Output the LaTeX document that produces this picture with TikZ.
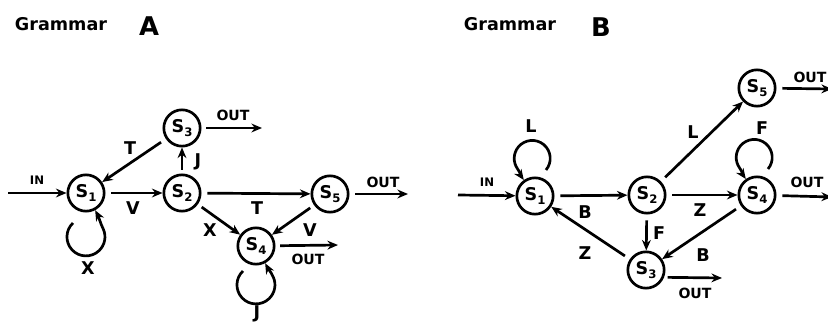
\documentclass[tikz,border=0pt]{standalone}
\usepackage{fontspec}
\setmainfont{DejaVu Sans}
\usetikzlibrary{arrows.meta,positioning,calc}

% state label: S with a lowered index
\newcommand{\stname}[1]{S\raisebox{-0.45ex}{\fontsize{10}{10}\selectfont #1}}

\begin{document}
\begin{tikzpicture}[
    x=0.03cm, y=0.03cm,
    every node/.style={font=\bfseries},
    state/.style={circle, draw, line width=2.3pt, minimum size=31pt, inner sep=0pt, font=\fontsize{15}{15}\bfseries\selectfont},
    arrow/.style={line width=2.3pt, -{Stealth[length=9pt,width=7.5pt]}},
    lbl/.style={font=\fontsize{15}{15}\bfseries\selectfont, inner sep=0pt},
    outlbl/.style={font=\fontsize{12}{12}\bfseries\selectfont, inner sep=0pt},
    inlbl/.style={font=\fontsize{10}{10}\bfseries\selectfont, inner sep=0pt},
    title/.style={font=\fontsize{15}{15}\bfseries\selectfont, inner sep=0pt},
    letter/.style={font=\fontsize{22}{22}\bfseries\selectfont, inner sep=0pt}
]
\useasboundingbox (0,0) rectangle (828,325);

% Titles
\node[title] (titleA) at (61,301) {Grammar};
\node[letter] (letterA) at (149,299) {A};
\node[title] (titleB) at (510,301) {Grammar};
\node[letter] (letterB) at (601,298) {B};

%%% Grammar A

% States
\node[state] (s1A) at (86,132) {\stname{1}};
\node[state] (s2A) at (182,132) {\stname{2}};
\node[state] (s3A) at (182,197) {\stname{3}};
\node[state] (s5A) at (330,131) {\stname{5}};
\node[state] (s4A) at (256,79) {\stname{4}};

% Free ends
\coordinate (inA) at (8,132);
\coordinate (out3A) at (262,197);
\coordinate (out5A) at (408,131);
\coordinate (out4A) at (338,80);

% Transitions
\draw[arrow] (inA) -- (s1A);
\draw[arrow, shorten <=5pt] (s1A) -- (s2A);
\draw[arrow, shorten <=5pt] (s3A) -- (s1A);
\draw[arrow, shorten <=3pt] (s2A) -- (s3A);
\draw[arrow, shorten <=5pt] (s2A) -- (s5A);
\draw[arrow, shorten <=4pt] (s2A) -- (s4A);
\draw[arrow, shorten <=4pt] (s5A) -- (s4A);
\draw[arrow, shorten <=4pt] (s3A) -- (out3A);
\draw[arrow, shorten <=5pt] (s5A) -- (out5A);
\draw[arrow, shorten <=4pt] (s4A) -- (out4A);
% loops below
\draw[arrow] ($(s1A)+(-13,-30)$) arc[start angle=133, end angle=385, radius=19] to[out=115,in=-62] (s1A.-62);
\draw[arrow] ($(s4A)+(-13,-25)$) arc[start angle=133, end angle=385, radius=19] to[out=115,in=-62] (s4A.-62);

% Labels
\node[inlbl] (inlblA) at (37,145) {IN};
\node[lbl] (vA1) at (133,117) {V};
\node[lbl] (tA1) at (130,177) {T};
\node[lbl] (jA1) at (198,163) {J};
\node[outlbl] (o3A) at (233,210) {OUT};
\node[lbl] (tA2) at (257,117) {T};
\node[lbl] (xA1) at (210,95) {X};
\node[lbl] (vA2) at (310,95) {V};
\node[outlbl] (o5A) at (383,143) {OUT};
\node[outlbl] (o4A) at (308,66) {OUT};
\node[lbl] (xA2) at (88,57) {X};
\node[lbl] (jA2) at (257,11) {J};

%%% Grammar B

% States
\node[state] (s1B) at (535,129) {\stname{1}};
\node[state] (s2B) at (647,130) {\stname{2}};
\node[state] (s4B) at (757,130) {\stname{4}};
\node[state] (s5B) at (757,237) {\stname{5}};
\node[state] (s3B) at (646,55) {\stname{3}};

% Free ends
\coordinate (inB) at (458,130);
\coordinate (out4B) at (832,128);
\coordinate (out5B) at (832,236);
\coordinate (out3B) at (722,47);

% Transitions
\draw[arrow] (inB) -- (s1B);
\draw[arrow, shorten <=5pt] (s1B) -- (s2B);
\draw[arrow, shorten <=5pt] (s2B) -- (s4B);
\draw[arrow, shorten <=5pt] (s2B) -- (s5B);
\draw[arrow, shorten <=5pt] (s2B) -- (s3B);
\draw[arrow, shorten <=5pt] (s4B) -- (s3B);
\draw[arrow, shorten <=5pt] (s3B) -- (s1B);
\draw[arrow, shorten <=5pt] (s4B) -- (out4B);
\draw[arrow, shorten <=5pt] (s5B) -- (out5B);
\draw[arrow, shorten <=3pt] (s3B.-22) -- (out3B);
% loops above
\draw[arrow] ($(s1B)+(11,26)$) arc[start angle=-40, end angle=215, radius=18] to[out=-55,in=125] (s1B.125);
\draw[arrow] ($(s4B)+(11,26)$) arc[start angle=-40, end angle=215, radius=18] to[out=-55,in=125] (s4B.125);

% Labels
\node[inlbl] (inlblB) at (487,143) {IN};
\node[lbl] (lB1) at (531,199) {L};
\node[lbl] (bB1) at (585,113) {B};
\node[lbl] (zB1) at (700,115) {Z};
\node[lbl] (lB2) at (693,193) {L};
\node[lbl] (fB1) at (659,92) {F};
\node[lbl] (bB2) at (703,70) {B};
\node[lbl] (zB2) at (585,72) {Z};
\node[lbl] (fB2) at (762,197) {F};
\node[outlbl] (o4B) at (807,143) {OUT};
\node[outlbl] (o5B) at (810,248) {OUT};
\node[outlbl] (o3B) at (695,32) {OUT};

\end{tikzpicture}
\end{document}
